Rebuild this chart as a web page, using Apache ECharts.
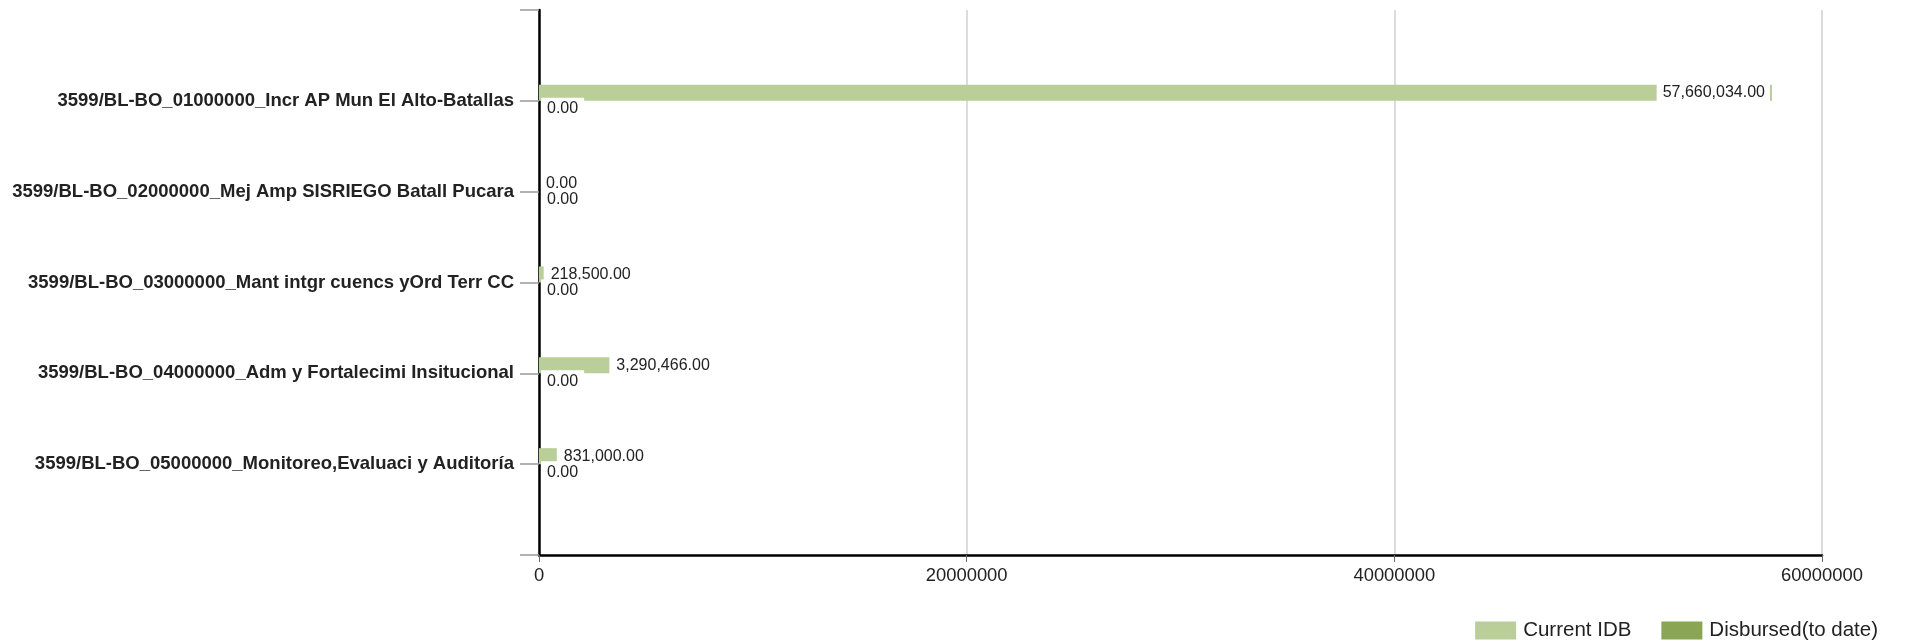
<!DOCTYPE html>
<html>
<head>
<meta charset="utf-8">
<script src="https://cdn.jsdelivr.net/npm/echarts@6/dist/echarts.min.js"></script>
<style>
html,body{margin:0;padding:0;background:#fff;}
#chart{width:1906px;height:644px;}
</style>
</head>
<body>
<div id="chart"></div>
<script>
const categories = [
  '3599/BL-BO_01000000_Incr AP Mun El Alto-Batallas',
  '3599/BL-BO_02000000_Mej Amp SISRIEGO Batall Pucara',
  '3599/BL-BO_03000000_Mant intgr cuencs yOrd Terr CC',
  '3599/BL-BO_04000000_Adm y Fortalecimi Insitucional',
  '3599/BL-BO_05000000_Monitoreo,Evaluaci y Auditoría'
];
const currentIDB = [57660034, 0, 218500, 3290466, 831000];
const disbursed = [0, 0, 0, 0, 0];
const xTicks = [0, 20000000, 40000000, 60000000];

const FONT = "'Liberation Sans', Arial, sans-serif";
const fmt = v => Number(v).toLocaleString('en-US', {minimumFractionDigits: 2, maximumFractionDigits: 2});
const xMax = xTicks[xTicks.length - 1];

const catData = [''].concat(categories, ['']);
const curData = ['-'].concat(currentIDB.map(v => {
  if (v / xMax > 0.9) {
    return {value: v, label: {position: 'insideRight', distance: 2, backgroundColor: '#fff', padding: [1, 5, 1, 6], lineHeight: 16}};
  }
  return v;
}), ['-']);
const disData = ['-'].concat(disbursed, ['-']);

const chart = echarts.init(document.getElementById('chart'));
chart.setOption({
  animation: false,
  textStyle: {fontFamily: FONT},
  grid: {left: 539, right: 84, top: 10, bottom: 89, containLabel: false},
  legend: {
    right: 23, top: 615,
    itemWidth: 41, itemHeight: 18, itemGap: 30,
    icon: 'rect',
    textStyle: {fontFamily: FONT, fontSize: 20.5, color: '#222', padding: [0, 0, 0, 2]},
    data: ['Current IDB', 'Disbursed(to date)']
  },
  xAxis: {
    type: 'value', min: xTicks[0], max: xMax, interval: xTicks[1] - xTicks[0],
    axisLine: {show: true, lineStyle: {color: '#000', width: 2.5}},
    axisTick: {show: true, length: 7, lineStyle: {color: '#666', width: 1}},
    axisLabel: {fontFamily: FONT, fontSize: 18.4, color: '#222', margin: 12, formatter: v => String(v)},
    splitLine: {show: true, lineStyle: {color: '#dcdcdc', width: 2}}
  },
  yAxis: {
    type: 'category', inverse: true, boundaryGap: false, data: catData,
    axisLine: {show: true, lineStyle: {color: '#000', width: 2.5}},
    axisTick: {show: true, length: 19, lineStyle: {color: '#999', width: 1.5}},
    axisLabel: {fontFamily: FONT, fontSize: 18.5, fontWeight: 'bold', color: '#222', margin: 25},
    splitLine: {show: false}
  },
  series: [
    {
      name: 'Current IDB', type: 'bar', data: curData,
      barWidth: 16, barGap: '0%',
      itemStyle: {color: '#b9ce98'},
      label: {show: true, position: 'right', distance: 7, fontFamily: FONT, fontSize: 16, color: '#222', formatter: p => fmt(p.value)}
    },
    {
      name: 'Disbursed(to date)', type: 'bar', data: disData,
      barWidth: 16, barGap: '0%',
      itemStyle: {color: '#8aa655'},
      label: {show: true, position: 'right', distance: 2, fontFamily: FONT, fontSize: 16, color: '#222',
        backgroundColor: '#fff', padding: [3, 6, 3, 6], lineHeight: 16, formatter: p => fmt(p.value)}
    }
  ]
});
</script>
</body>
</html>
